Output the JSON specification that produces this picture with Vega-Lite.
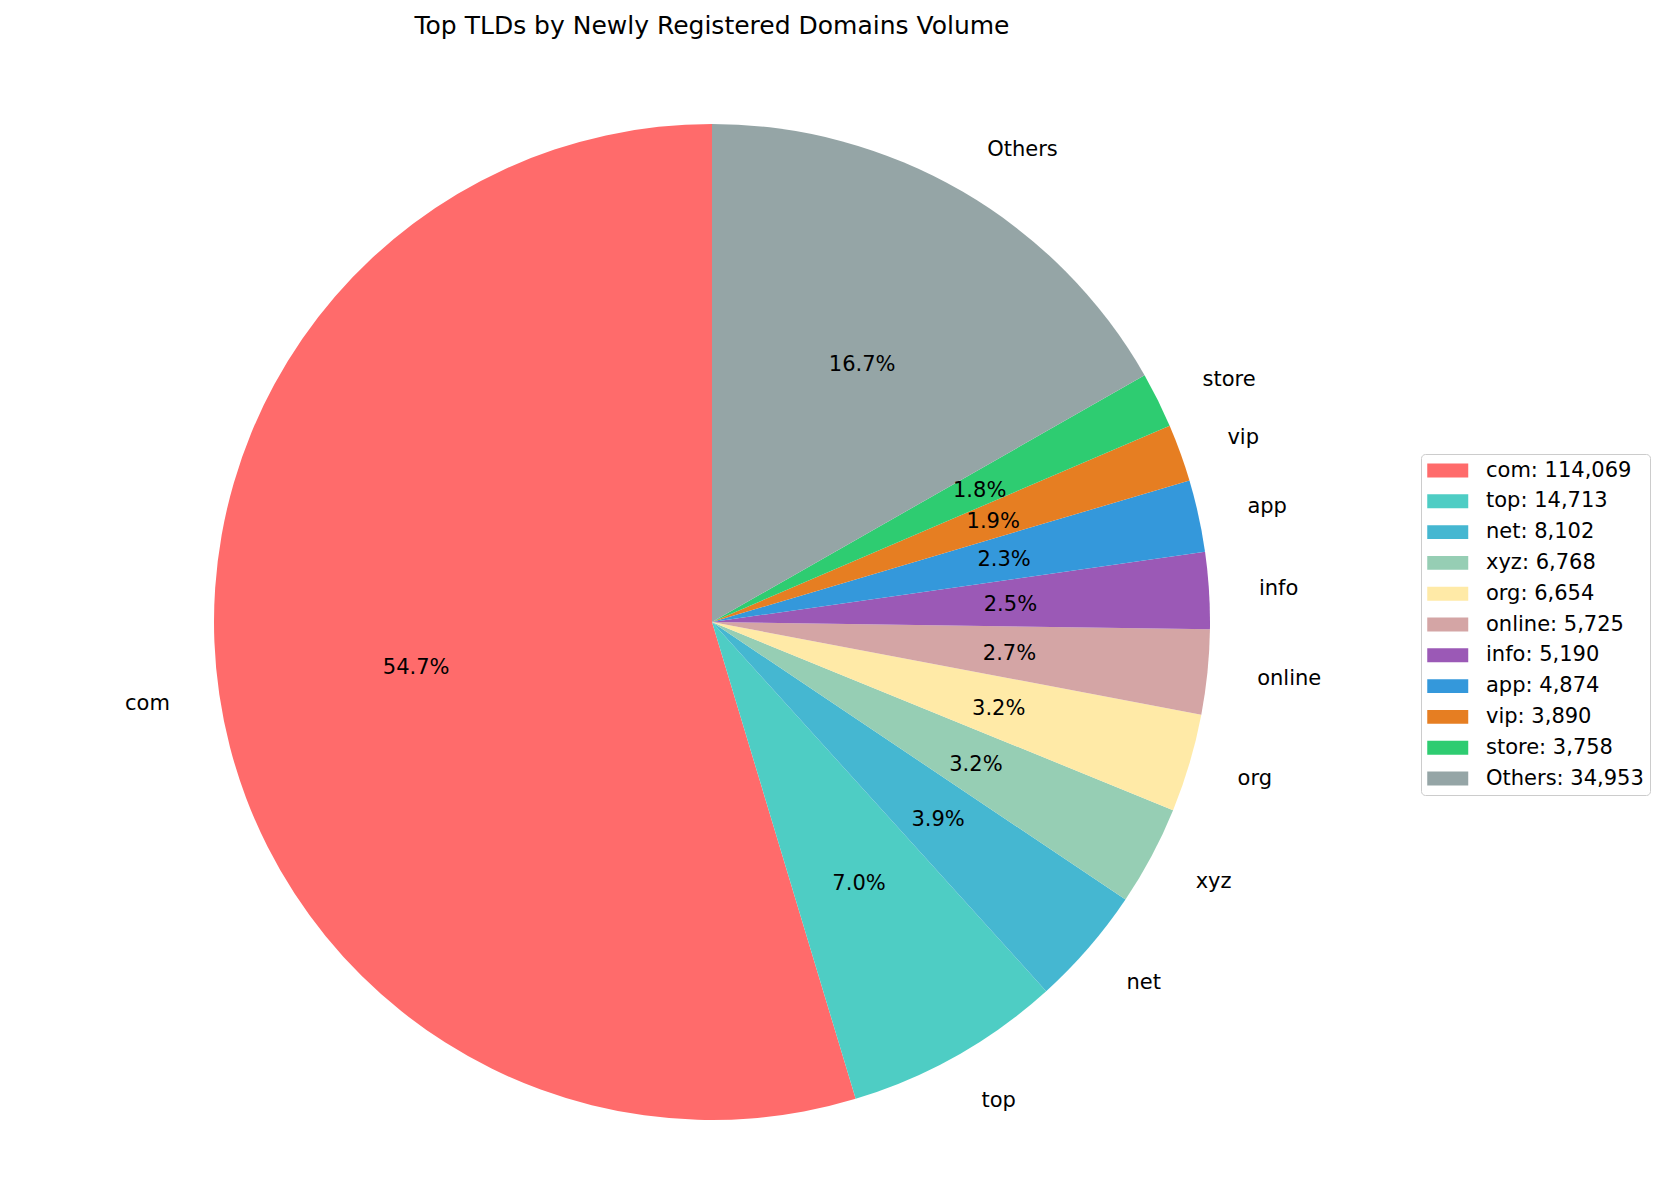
{
  "$schema": "https://vega.github.io/schema/vega-lite/v6.json",
  "autosize": "none",
  "width": 1424,
  "height": 1126,
  "padding": {"left": 0, "top": 59, "right": 243, "bottom": 0},
  "background": "white",
  "config": {"view": {"stroke": null}, "font": "DejaVu Sans"},
  "title": {
    "text": "Top TLDs by Newly Registered Domains Volume",
    "font": "DejaVu Sans",
    "fontSize": 25,
    "fontWeight": "normal",
    "color": "black",
    "anchor": "middle",
    "offset": 20
  },
  "data": {
    "values": [
      {"idx": 0, "tld": "com", "entry": "com: 114,069", "count": 114069, "pct": "54.7%"},
      {"idx": 1, "tld": "top", "entry": "top: 14,713", "count": 14713, "pct": "7.0%"},
      {"idx": 2, "tld": "net", "entry": "net: 8,102", "count": 8102, "pct": "3.9%"},
      {"idx": 3, "tld": "xyz", "entry": "xyz: 6,768", "count": 6768, "pct": "3.2%"},
      {"idx": 4, "tld": "org", "entry": "org: 6,654", "count": 6654, "pct": "3.2%"},
      {"idx": 5, "tld": "online", "entry": "online: 5,725", "count": 5725, "pct": "2.7%"},
      {"idx": 6, "tld": "info", "entry": "info: 5,190", "count": 5190, "pct": "2.5%"},
      {"idx": 7, "tld": "app", "entry": "app: 4,874", "count": 4874, "pct": "2.3%"},
      {"idx": 8, "tld": "vip", "entry": "vip: 3,890", "count": 3890, "pct": "1.9%"},
      {"idx": 9, "tld": "store", "entry": "store: 3,758", "count": 3758, "pct": "1.8%"},
      {"idx": 10, "tld": "Others", "entry": "Others: 34,953", "count": 34953, "pct": "16.7%"}
    ]
  },
  "encoding": {
    "theta": {"field": "count", "type": "quantitative", "stack": true},
    "order": {"field": "idx", "type": "quantitative", "sort": "descending"}
  },
  "layer": [
    {
      "mark": {"type": "arc", "radius": 498},
      "encoding": {
        "color": {
          "field": "entry",
          "type": "nominal",
          "scale": {
            "domain": ["com: 114,069", "top: 14,713", "net: 8,102", "xyz: 6,768", "org: 6,654", "online: 5,725", "info: 5,190", "app: 4,874", "vip: 3,890", "store: 3,758", "Others: 34,953"],
            "range": ["#FF6B6B", "#4ECDC4", "#45B7D1", "#96CEB4", "#FFEAA7", "#D4A5A5", "#9B59B6", "#3498DB", "#E67E22", "#2ECC71", "#95A5A6"]
          },
          "legend": {
            "title": null,
            "orient": "none",
            "legendX": 1421,
            "legendY": 395,
            "symbolType": "M-1,-0.68H3V0.68H-1Z",
            "symbolSize": 420,
            "symbolStrokeWidth": 0,
            "labelFont": "DejaVu Sans",
            "labelFontSize": 21,
            "labelColor": "black",
            "labelOffset": 38,
            "labelLimit": 300,
            "rowPadding": 8.8,
            "padding": 6,
            "strokeColor": "#cccccc",
            "fillColor": "white",
            "cornerRadius": 4
          }
        }
      }
    },
    {
      "mark": {"type": "text", "radius": 548, "align": "left", "baseline": "middle", "dy": 2, "fontSize": 21, "font": "DejaVu Sans", "color": "black"},
      "encoding": {
        "detail": {"field": "entry"},
        "text": {"condition": {"test": "datum.tld !== 'com'", "field": "tld"}, "value": ""}
      }
    },
    {
      "mark": {"type": "text", "radius": 548, "align": "right", "baseline": "middle", "dy": 2, "fontSize": 21, "font": "DejaVu Sans", "color": "black"},
      "encoding": {
        "detail": {"field": "entry"},
        "text": {"condition": {"test": "datum.tld === 'com'", "field": "tld"}, "value": ""}
      }
    },
    {
      "mark": {"type": "text", "radius": 299, "align": "center", "baseline": "middle", "dy": 2, "fontSize": 21, "font": "DejaVu Sans", "color": "black"},
      "encoding": {
        "detail": {"field": "entry"},
        "text": {"field": "pct"}
      }
    }
  ]
}
